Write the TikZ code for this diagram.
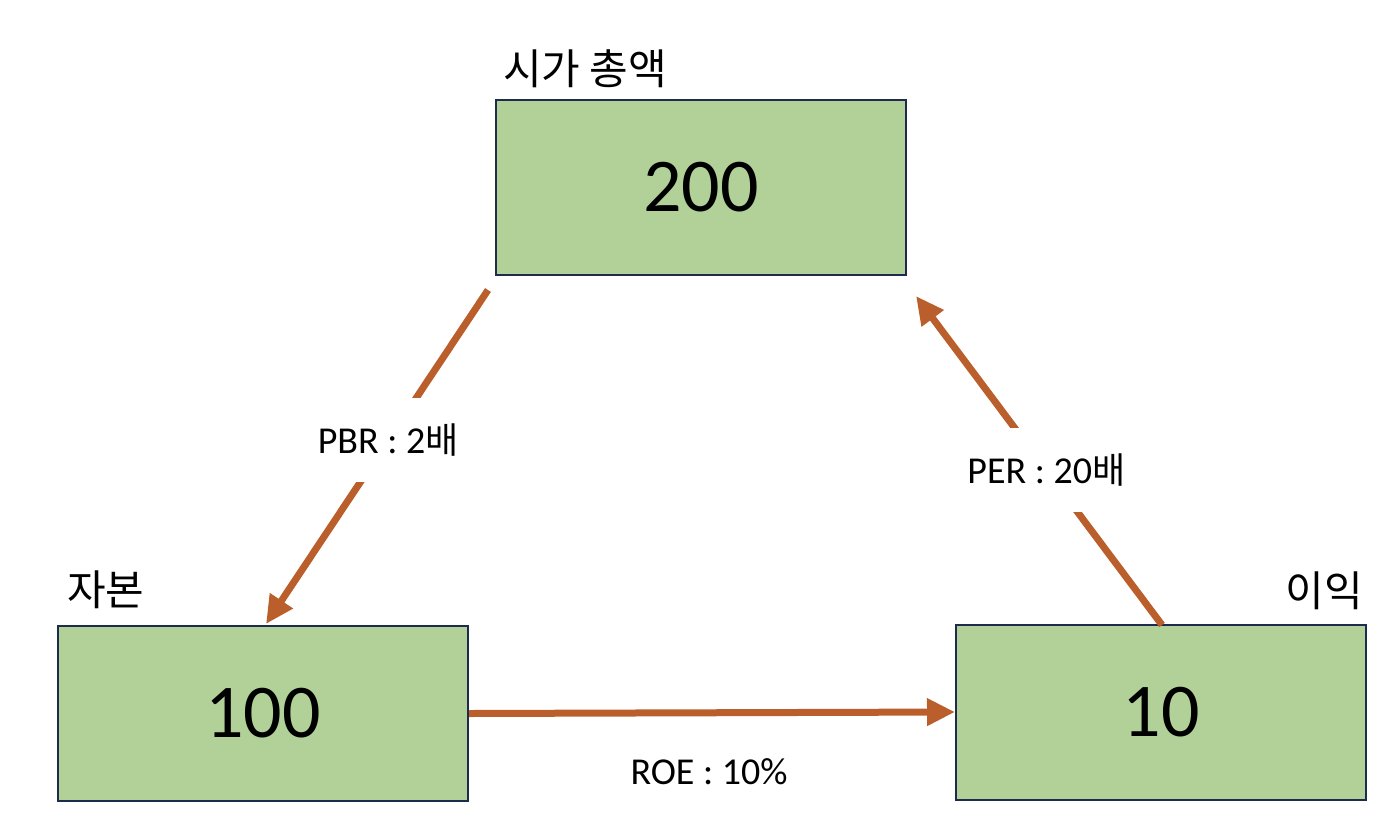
\documentclass[tikz,border=0pt]{standalone}
\usepackage{fontspec}
\setmainfont{Carlito}
\newfontfamily\kr{Noto Sans CJK KR}
\usetikzlibrary{arrows.meta,calc}
\definecolor{boxgreen}{HTML}{B2D198}
\definecolor{boxline}{HTML}{1F2B4D}
\definecolor{arr}{HTML}{BA5F2C}
\begin{document}
\begin{tikzpicture}[x=1pt,y=-1pt,
  valbox/.style={draw=boxline,line width=2pt,fill=boxgreen,minimum width=410pt,minimum height=175pt,inner sep=0pt,font=\fontsize{76}{80}\selectfont},
  title/.style={font=\kr\fontsize{42}{46}\selectfont,inner sep=0pt},
  conn/.style={draw=arr,line width=7pt,-{Triangle[length=28pt,width=26pt]}},
  lab/.style={font=\fontsize{38}{42}\selectfont,fill=white,inner sep=0pt,minimum height=84pt,minimum width=160pt}
]
\useasboundingbox (0,0) rectangle (1396,828);
\node[valbox] (mc) at (701,187.5) {200};
\node[valbox] (eq) at (263,713.5) {100};
\node[valbox] (ni) at (1161,712) {10};
\node[title,anchor=base west] (mct) at (503,84) {시가 총액};
\node[title,anchor=base west] (eqt) at (67,605) {자본};
\node[title,anchor=base east] (nit) at (1363,606) {이익};
\coordinate (p1) at (488,290);
\coordinate (p2) at (266,624);
\coordinate (q1) at (1162,625);
\coordinate (q2) at (916,296);
\draw[conn] (p1) -- node[lab,pos=0.45] (pbr) {PBR : 2{\kr\fontsize{36}{40}\selectfont 배}} (p2);
\draw[conn] (q1) -- node[lab,pos=0.47] (per) {PER : 20{\kr\fontsize{36}{40}\selectfont 배}} (q2);
\draw[conn] (eq.east) -- (ni.west);
\node[font=\fontsize{38}{42}\selectfont,inner sep=0pt] (roe) at (709,772) {ROE : 10\%};
\end{tikzpicture}
\end{document}
